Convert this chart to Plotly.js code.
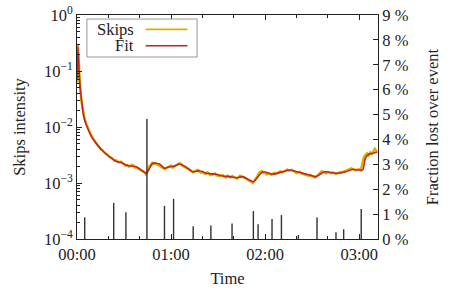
<!DOCTYPE html>
<html><head>
<script src="https://cdn.plot.ly/plotly-3.0.1.min.js"></script>
<style>body{margin:0;background:#fff}</style>
</head><body>
<div id="chart" style="width:457px;height:291px"></div>
<script>
// Fit curve (minutes since 00:00, skips intensity)
const fitTime = [0,0.6,1.4,2.2,4.3,6.4,10.6,17,21,25.5,28,31,34,37.8,41,44.2,48.4,52.7,55.9,59,62,65.4,69.7,73.9,78.2,82.4,88.8,93,97.3,101.5,105.7,110,112.5,118.5,124.8,131.2,135.5,141.8,148.2,152.5,157.8,165.2,171.6,175.8,182.2,183.9,186.4,189,191.7];
const fitValue = [0.07,0.27,0.09,0.046,0.0153,0.0101,0.00586,0.00362,0.0029,0.0024,0.00235,0.0021,0.00201,0.00195,0.0017,0.00149,0.00225,0.00218,0.00183,0.00195,0.0020,0.00218,0.00191,0.00159,0.00166,0.00149,0.00143,0.00133,0.0013,0.00124,0.0013,0.00113,0.00105,0.00159,0.00143,0.00159,0.00171,0.00155,0.00139,0.0013,0.00159,0.00149,0.00159,0.00176,0.00171,0.00276,0.0033,0.0034,0.0036];

// Measured skips (noisy)
const skipsTime = [0,0.3,0.6,1.0,1.4,2,3,4,5,6,7,8,9,10,11,12,13,14,15,16,17,18,19,20,21,22,23,24,25,26,27,28,29,30,31,32,33,34,35,36,37,38,39,40,41,42,43,44,45,46,47,48,49,50,51,52,53,54,55,56,57,58,59,60,61,62,63,64,65,66,67,68,69,70,71,72,73,74,75,76,77,78,79,80,81,82,83,84,85,86,87,88,89,90,91,92,93,94,95,96,97,98,99,100,101,102,103,104,105,106,107,108,109,110,111,112,113,114,115,116,117,118,119,120,121,122,123,124,125,126,127,128,129,130,131,132,133,134,135,136,137,138,139,140,141,142,143,144,145,146,147,148,149,150,151,152,153,154,155,156,157,158,159,160,161,162,163,164,165,166,167,168,169,170,171,172,173,174,175,176,177,178,179,180,181,182,183,184,185,186,187,188,189,190,191,191.7];
const skipsValue = [0.06,0.18,0.29,0.17,0.085,0.05,0.027,0.0175,0.0135,0.0112,0.0094,0.0082,0.0071,0.0064,0.0058,0.0052,0.0049,0.0044,0.0040,0.0039,0.0036,0.0034,0.0033,0.0031,0.0029,0.00285,0.0026,0.0025,0.00255,0.00245,0.00232,0.0024,0.00228,0.00218,0.00205,0.0021,0.00196,0.0020,0.00212,0.00205,0.00188,0.0019,0.00182,0.00178,0.00168,0.00165,0.00156,0.00142,0.0016,0.00195,0.00215,0.0023,0.00218,0.00225,0.00212,0.0021,0.00198,0.0019,0.00178,0.00176,0.00186,0.0019,0.00198,0.00205,0.00188,0.00195,0.00205,0.0021,0.00222,0.00225,0.00205,0.00198,0.00192,0.00185,0.00176,0.0017,0.00162,0.00155,0.00162,0.00168,0.00172,0.0016,0.00152,0.00158,0.00148,0.00145,0.00155,0.00152,0.00138,0.0014,0.00146,0.00148,0.00136,0.00137,0.00132,0.00135,0.00138,0.00128,0.00125,0.00136,0.00129,0.00126,0.00134,0.0013,0.00122,0.0012,0.00126,0.00135,0.00131,0.00127,0.00121,0.00118,0.00114,0.00112,0.00106,0.001,0.00107,0.00118,0.00132,0.0015,0.00158,0.00162,0.00152,0.0015,0.00142,0.00148,0.00146,0.0014,0.00147,0.00152,0.00148,0.0015,0.00158,0.00162,0.00155,0.00158,0.00165,0.00174,0.00166,0.00168,0.00172,0.00165,0.00158,0.0015,0.00156,0.00158,0.00148,0.00145,0.00142,0.0014,0.00136,0.00134,0.00138,0.00135,0.00129,0.00125,0.00133,0.0014,0.00152,0.00162,0.00158,0.00155,0.00149,0.00158,0.00152,0.00148,0.00154,0.00152,0.00144,0.0015,0.00152,0.00158,0.00156,0.00162,0.00165,0.00168,0.00172,0.00176,0.00182,0.00175,0.0017,0.00168,0.00174,0.00176,0.00168,0.0022,0.0029,0.0032,0.0034,0.0031,0.0035,0.0033,0.0038,0.0041,0.0037];

// Events: time and fraction lost (%)
const eventTime = [4.9,23.4,31.2,44.6,55.8,61.6,74.1,85.4,98.9,112.5,115.5,124.4,130.4,141.2,153.1,165.2,170.1,181.3];
const eventLost = [0.87,1.45,1.07,4.82,1.33,1.61,0.51,0.54,0.62,1.12,0.59,0.80,0.96,0.16,0.86,0.27,0.39,1.21];

const timeTickVals = [0,60,120,180];
const timeTickText = ['00:00','01:00','02:00','03:00'];
const intensityTickVals = [1e-4,1e-3,1e-2,1e-1,1];
const intensityTickText = ['10<sup>−4</sup>','10<sup>−3</sup>','10<sup>−2</sup>','10<sup>−1</sup>','10<sup>0</sup>'];
const intensityMinorVals = [];
[1e-4,1e-3,1e-2,1e-1].forEach(d => { for (let k = 2; k <= 9; k++) intensityMinorVals.push(d*k); });

const font = {family:'Liberation Serif, serif', size:16.5, color:'#222'};

const traces = [
  {x:skipsTime, y:skipsValue, type:'scatter', mode:'lines', name:'Skips', line:{color:'#d9b000', width:2.4}, showlegend:false},
  {x:fitTime, y:fitValue, type:'scatter', mode:'lines', name:'Fit', line:{color:'#c4261e', width:1.6, shape:'spline', smoothing:0.6}, showlegend:false},
  {x:eventTime, y:eventLost, type:'bar', yaxis:'y2', width:0.9, marker:{color:'#333', line:{width:0}}, showlegend:false}
];

const layout = {
  width:457, height:291,
  margin:{l:77, r:79, t:15, b:52},
  paper_bgcolor:'#fff', plot_bgcolor:'#fff',
  font: font,
  showlegend:false,
  xaxis:{range:[0,192], tickmode:'array', tickvals:timeTickVals, ticktext:timeTickText,
    ticks:'inside', ticklen:5, tickcolor:'#222', showline:true, linecolor:'#222', linewidth:1, mirror:'ticks',
    showgrid:false, zeroline:false, minor:{tickmode:'linear', tick0:0, dtick:20, ticks:'inside', ticklen:3, tickcolor:'#222'},
    title:{text:'Time', font:font, standoff:9}, tickfont:font},
  yaxis:{type:'log', range:[-4,0], tickmode:'array', tickvals:intensityTickVals, ticktext:intensityTickText,
    ticks:'inside', ticklen:5, tickcolor:'#222', showline:true, linecolor:'#222', linewidth:1,
    showgrid:false, zeroline:false, minor:{tickmode:'array', tickvals:intensityMinorVals, ticks:'inside', ticklen:2.5, tickcolor:'#222'},
    title:{text:'Skips intensity', font:font, standoff:14}, tickfont:font},
  yaxis2:{overlaying:'y', side:'right', range:[0,9], dtick:1, ticksuffix:' %',
    ticks:'inside', ticklen:5, tickcolor:'#222', showline:true, linecolor:'#222', linewidth:1,
    showgrid:false, zeroline:false,
    title:{text:'Fraction lost over event', font:font, standoff:18}, tickfont:font},
  shapes:[
    {type:'rect', xref:'paper', yref:'paper', x0:0.033, x1:0.399, y0:0.8125, y1:0.982, line:{color:'#999', width:1}, fillcolor:'#fff'},
    {type:'line', xref:'paper', yref:'paper', x0:0.228, x1:0.367, y0:0.936, y1:0.936, line:{color:'#d9b000', width:1.6}},
    {type:'line', xref:'paper', yref:'paper', x0:0.228, x1:0.367, y0:0.863, y1:0.863, line:{color:'#c4261e', width:1.6}}
  ],
  annotations:[
    {text:'Skips', xref:'paper', yref:'paper', x:0.192, y:0.936, xanchor:'right', yanchor:'middle', showarrow:false, font:font, borderpad:0},
    {text:'Fit', xref:'paper', yref:'paper', x:0.192, y:0.863, xanchor:'right', yanchor:'middle', showarrow:false, font:font, borderpad:0}
  ]
};

Plotly.newPlot('chart', traces, layout, {staticPlot:true, displayModeBar:false});
</script>
</body></html>
